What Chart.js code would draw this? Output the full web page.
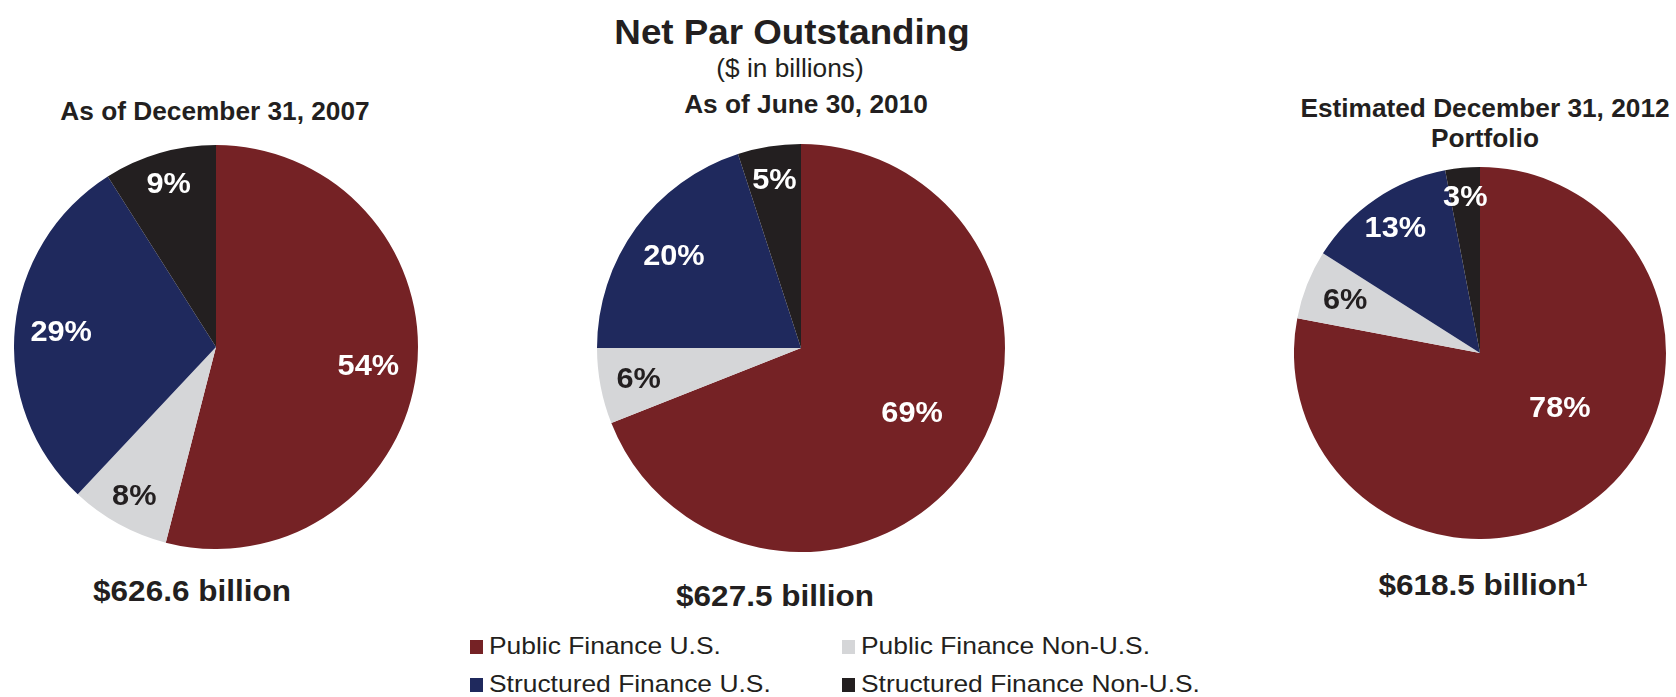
<!DOCTYPE html>
<html>
<head>
<meta charset="utf-8">
<script src="https://cdn.jsdelivr.net/npm/chart.js@4.4.1/dist/chart.umd.min.js"></script>
<style>
  html, body { margin: 0; padding: 0; background: #fff; }
  #page { position: relative; width: 1676px; height: 697px; overflow: hidden;
          font-family: "Liberation Sans", Arial, Helvetica, sans-serif; color: #231f20; }
  .txt { position: absolute; white-space: nowrap; line-height: 1; }
  .ctr { transform: translateX(-50%) scaleX(1.05); transform-origin: center; text-align: center; }
  .b { font-weight: bold; }
  .pie { position: absolute; }
  .key { position: absolute; width: 13px; height: 14px; }
  .leg { font-size: 24px; transform: scaleX(1.1); transform-origin: left; }
  .note { font-size: 19px; vertical-align: 9px; }
</style>
</head>
<body>
<div id="page">
  <div class="txt ctr b" style="left:792px; top:14px; font-size:35px;">Net Par Outstanding</div>
  <div class="txt ctr" style="left:790px; top:56px; font-size:25px;">($ in billions)</div>

  <div class="txt ctr b" id="t0" style="left:215px; top:99px; font-size:25px;"></div>
  <div class="txt ctr b" id="t1" style="left:806px; top:92px; font-size:25px;"></div>
  <div class="txt ctr b" id="t2" style="left:1485px; top:94px; font-size:25px; line-height:29.5px;"></div>

  <div class="pie" style="left:14px; top:145px; width:404px; height:404px;"><canvas id="pie0"></canvas></div>
  <div class="pie" style="left:597px; top:144px; width:408px; height:408px;"><canvas id="pie1"></canvas></div>
  <div class="pie" style="left:1294px; top:167px; width:372px; height:372px;"><canvas id="pie2"></canvas></div>

  <div class="txt ctr b" id="v0" style="left:192px; top:576px; font-size:30px;"></div>
  <div class="txt ctr b" id="v1" style="left:775px; top:581px; font-size:30px;"></div>
  <div class="txt ctr b" id="v2" style="left:1483px; top:570px; font-size:30px;"></div>

  <div id="legend"></div>
</div>

<script>
// Net par outstanding by sector, percent of total
const categories = ['Public Finance U.S.', 'Public Finance Non-U.S.', 'Structured Finance U.S.', 'Structured Finance Non-U.S.'];
const share2007 = [54, 8, 29, 9];
const share2010 = [69, 6, 20, 5];
const share2012 = [78, 6, 13, 3];

const periodTitles = ['As of December 31, 2007', 'As of June 30, 2010', 'Estimated December 31, 2012<br>Portfolio'];
const totals = ['$626.6 billion', '$627.5 billion', '$618.5 billion'];
const footnotes = ['', '', '1'];

const sectorColors = ['#752225', '#d5d6d8', '#1f295d', '#231f20'];
const labelColors = ['#ffffff', '#231f20', '#ffffff', '#ffffff'];

// percent labels drawn inside each slice
const sliceLabelPlugin = {
    id: 'sliceLabels',
    afterDatasetsDraw: function (chart, args, opts) {
        const ctx = chart.ctx;
        const meta = chart.getDatasetMeta(0);
        const values = chart.data.datasets[0].data;
        ctx.save();
        ctx.font = 'bold 29px "Liberation Sans", Arial, sans-serif';
        ctx.textAlign = 'center';
        ctx.textBaseline = 'middle';
        meta.data.forEach(function (arc, i) {
            const mid = (arc.startAngle + arc.endAngle) / 2 + (opts.shift[i] || 0) * Math.PI / 180;
            const r = arc.outerRadius * opts.radius[i];
            const x = arc.x + Math.cos(mid) * r;
            const y = arc.y + Math.sin(mid) * r;
            ctx.save();
            ctx.translate(x, y);
            ctx.scale(1.06, 1);
            ctx.fillStyle = labelColors[i];
            ctx.fillText(values[i] + '%', 0, 1);
            ctx.restore();
        });
        ctx.restore();
    }
};

function createPie(canvasId, data, radius, shift) {
    const ctx = document.getElementById(canvasId);
    return new Chart(ctx, {
        type: 'pie',
        data: {
            labels: categories,
            datasets: [{
                data: data,
                backgroundColor: sectorColors,
                borderWidth: 0
            }]
        },
        options: {
            responsive: true,
            maintainAspectRatio: false,
            animation: false,
            layout: { padding: 0 },
            plugins: {
                legend: { display: false },
                tooltip: { enabled: false },
                sliceLabels: { radius: radius, shift: shift }
            }
        },
        plugins: [sliceLabelPlugin]
    });
}

createPie('pie0', share2007, [0.76, 0.84, 0.77, 0.84], [0, 0, 0, 0]);
createPie('pie1', share2010, [0.63, 0.81, 0.77, 0.835], [-4, 0, 0, 0]);
createPie('pie2', share2012, [0.52, 0.78, 0.81, 0.84], [-16, 0, 0, 0]);

periodTitles.forEach(function (t, i) { document.getElementById('t' + i).innerHTML = t; });
totals.forEach(function (t, i) {
    const el = document.getElementById('v' + i);
    el.textContent = t;
    if (footnotes[i]) {
        const sup = document.createElement('span');
        sup.className = 'note';
        sup.textContent = footnotes[i];
        el.appendChild(sup);
    }
});

// shared legend, two columns
const legend = document.getElementById('legend');
const keyX = [470, 842];
const textX = [489, 861];
const rowKeyY = [640, 678];
const rowTextY = [634, 672];
categories.forEach(function (name, i) {
    const col = i % 2, row = Math.floor(i / 2);
    const key = document.createElement('div');
    key.className = 'key';
    key.style.left = keyX[col] + 'px';
    key.style.top = rowKeyY[row] + 'px';
    key.style.background = sectorColors[i];
    legend.appendChild(key);
    const label = document.createElement('div');
    label.className = 'txt leg';
    label.style.left = textX[col] + 'px';
    label.style.top = rowTextY[row] + 'px';
    label.textContent = name;
    legend.appendChild(label);
});
</script>
</body>
</html>
